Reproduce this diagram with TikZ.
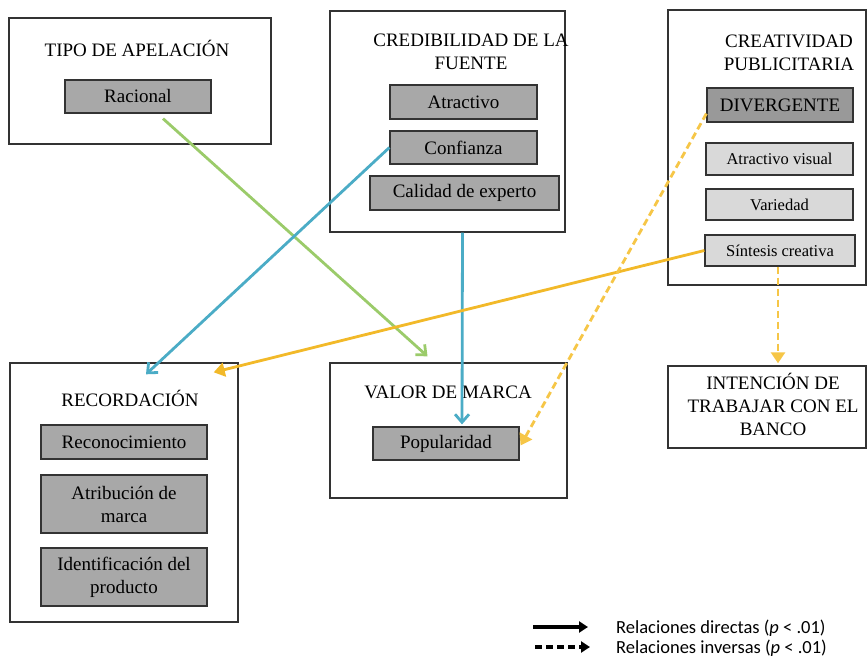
\documentclass[tikz,border=0pt]{standalone}
\usepackage{fontspec}
\setmainfont{Liberation Serif}
\newfontfamily\legfont{Carlito}
\usetikzlibrary{arrows.meta,calc}
\definecolor{cblue}{HTML}{4BACC6}
\definecolor{cgreen}{HTML}{9BCB6A}
\definecolor{cyell}{HTML}{F2B929}
\definecolor{cyelld}{HTML}{F6C647}
\definecolor{gmain}{HTML}{A8A8A8}
\definecolor{gdark}{HTML}{999999}
\definecolor{glight}{HTML}{D9D9D9}
\definecolor{bord}{HTML}{333333}
\tikzset{
  outer/.style={draw=bord, line width=1.4pt, fill=white, inner sep=0pt},
  inner/.style={draw=bord, line width=1.2pt, fill=gmain, inner sep=0pt, align=center,
     font=\fontsize{19}{23}\selectfont},
  innerlt/.style={inner, fill=glight, font=\fontsize{16.5}{20}\selectfont},
  title/.style={align=center, font=\fontsize{19}{23}\selectfont, inner sep=0pt},
  link/.style={line width=2.8pt},
  bluelink/.style={link, draw=cblue, -{Straight Barb[length=8pt,width=14pt,line width=2.8pt]}},
  greenlink/.style={link, draw=cgreen, -{Straight Barb[length=8pt,width=14pt,line width=2.8pt]}},
  yelllink/.style={link, draw=cyell, -{Triangle[length=11pt,width=14pt]}},
  yelldash/.style={link, draw=cyelld, dash pattern=on 7pt off 4pt, -{Triangle[length=11pt,width=14pt]}},
  legtext/.style={anchor=west, font=\legfont\fontsize{18.5}{22}\selectfont, inner sep=0pt}
}
\begin{document}
\begin{tikzpicture}[x=1pt,y=-1pt]
\useasboundingbox (0,0) rectangle (868,658);
% outer boxes
\node[outer, minimum width=262pt, minimum height=126pt] (tipo) at (140,81) {};
\node[outer, minimum width=235pt, minimum height=221pt] (cred) at (447.5,121.5) {};
\node[outer, minimum width=198pt, minimum height=275pt] (crea) at (767,147.5) {};
\node[outer, minimum width=228pt, minimum height=259pt] (rec) at (124,492.5) {};
\node[outer, minimum width=237pt, minimum height=135pt] (valor) at (448.5,430.5) {};
\node[outer, minimum width=198pt, minimum height=82pt] (inten) at (767,407) {};
% titles
\node[title] (tipoT) at (137,48) {TIPO DE APELACIÓN};
\node[title] (credT) at (471,52) {CREDIBILIDAD DE LA\\FUENTE};
\node[title] (creaT) at (789,53) {CREATIVIDAD\\PUBLICITARIA};
\node[title] (recT) at (130,398) {RECORDACIÓN};
\node[title] (valorT) at (448,392) {VALOR DE MARCA};
\node[title] (intenT) at (773,404) {INTENCIÓN DE\\TRABAJAR CON EL\\BANCO};
% inner boxes
\node[inner, minimum width=146pt, minimum height=33pt] (racional) at (138,96.5) {Racional};
\node[inner, minimum width=147pt, minimum height=34pt] (atractivo) at (463.5,102) {Atractivo};
\node[inner, minimum width=147pt, minimum height=33pt] (confianza) at (463.5,147.5) {Confianza};
\node[inner, minimum width=189pt, minimum height=34pt] (calidad) at (464.5,193) {Calidad de experto};
\node[inner, fill=gdark, minimum width=146pt, minimum height=34pt] (diverg) at (780,105) {DIVERGENTE};
\node[innerlt, minimum width=147pt, minimum height=32pt] (atrvis) at (779.5,159) {Atractivo visual};
\node[innerlt, minimum width=147pt, minimum height=31pt] (variedad) at (779.5,204.5) {Variedad};
\node[innerlt, minimum width=150pt, minimum height=31pt] (sintesis) at (780,250.5) {Síntesis creativa};
\node[inner, minimum width=166pt, minimum height=34pt] (reconoc) at (124,442) {Reconocimiento};
\node[inner, minimum width=166pt, minimum height=58pt] (atrib) at (124,504) {Atribución de\\marca};
\node[inner, minimum width=166pt, minimum height=58pt] (ident) at (124,577) {Identificación del\\producto};
\node[inner, minimum width=146pt, minimum height=33pt] (popular) at (446,443.5) {Popularidad};
% connectors
\draw[greenlink] ([shift={(25,5)}]racional.south) -- ([shift={(-21,-6)}]valor.north);
\draw[bluelink] (confianza.west) -- ([shift={(22,12)}]rec.north);
\draw[bluelink] ([xshift=15pt]cred.south) -- ([shift={(16,-2)}]popular.north);
\draw[yelllink] (sintesis.west) -- ([shift={(-25,10)}]rec.north east);
\draw[yelldash] ([shift={(0,-9)}]diverg.south west) -- ([shift={(1,2)}]popular.east);
\draw[yelldash] ([xshift=-2pt]sintesis.south) -- ([shift={(-2,-2)}]sintesis.south |- inten.north);
% legend
\coordinate (l1a) at (533,627);
\coordinate (l1b) at (588,627);
\coordinate (l2a) at (535,647);
\coordinate (l2b) at (590,647);
\draw[line width=3.2pt, -{Triangle[length=9pt,width=11pt]}] (l1a) -- (l1b);
\draw[line width=3.2pt, dash pattern=on 7pt off 4pt, -{Triangle[length=9pt,width=11pt]}] (l2a) -- (l2b);
\node[legtext] (leg1) at (616,628) {Relaciones directas (\textit{p} < .01)};
\node[legtext] (leg2) at (616,648) {Relaciones inversas (\textit{p} < .01)};
\end{tikzpicture}
\end{document}
